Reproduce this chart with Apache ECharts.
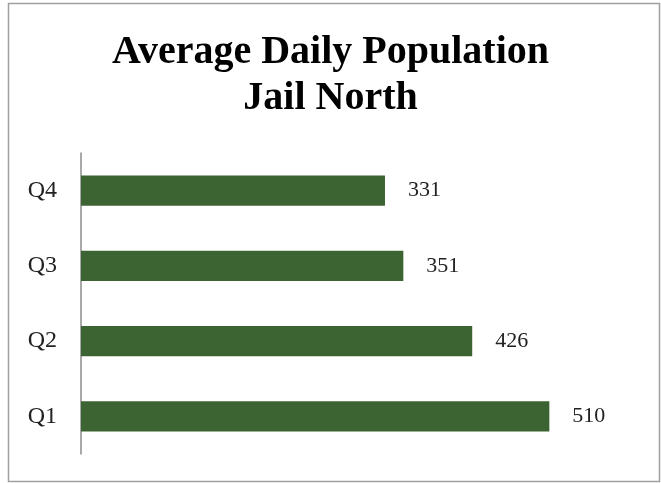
<!DOCTYPE html>
<html><head><meta charset="utf-8">
<script src="https://cdn.jsdelivr.net/npm/echarts@6/dist/echarts.min.js"></script>
<style>html,body{margin:0;padding:0;background:#fff}#c{width:661px;height:483px}</style>
</head><body><div id="c"></div>
<script>
const categories = ['Q1', 'Q2', 'Q3', 'Q4'];
const values = [510, 426, 351, 331];
const titleText = 'Average Daily Population\nJail North';

const chart = echarts.init(document.getElementById('c'));
const serif = '"Liberation Serif", "DejaVu Serif", serif';
chart.setOption({
  animation: false,
  graphic: [{
    type: 'rect', shape: { x: 8.5, y: 3.5, width: 651, height: 478 },
    style: { fill: 'none', stroke: '#a0a0a0', lineWidth: 1.5 }, silent: true
  }],
  title: {
    text: titleText, left: 'center', top: 25,
    textStyle: { fontFamily: serif, fontWeight: 'bold', fontSize: 40, lineHeight: 46, color: '#000' }
  },
  grid: { left: 81, top: 153, width: 551, height: 301, containLabel: false },
  xAxis: {
    type: 'value', min: 0, max: 600, show: false
  },
  yAxis: {
    type: 'category', data: categories,
    axisLine: { show: true, lineStyle: { color: '#8c8c8c', width: 1.5 } },
    axisTick: { show: false },
    axisLabel: { fontFamily: serif, fontSize: 24, color: '#222', margin: 24 }
  },
  series: [{
    type: 'bar', data: values, barWidth: '40%',
    itemStyle: { color: '#3c6332' },
    label: { show: true, position: 'right', distance: 23, fontFamily: serif, fontSize: 22, color: '#222' }
  }]
});
</script></body></html>
